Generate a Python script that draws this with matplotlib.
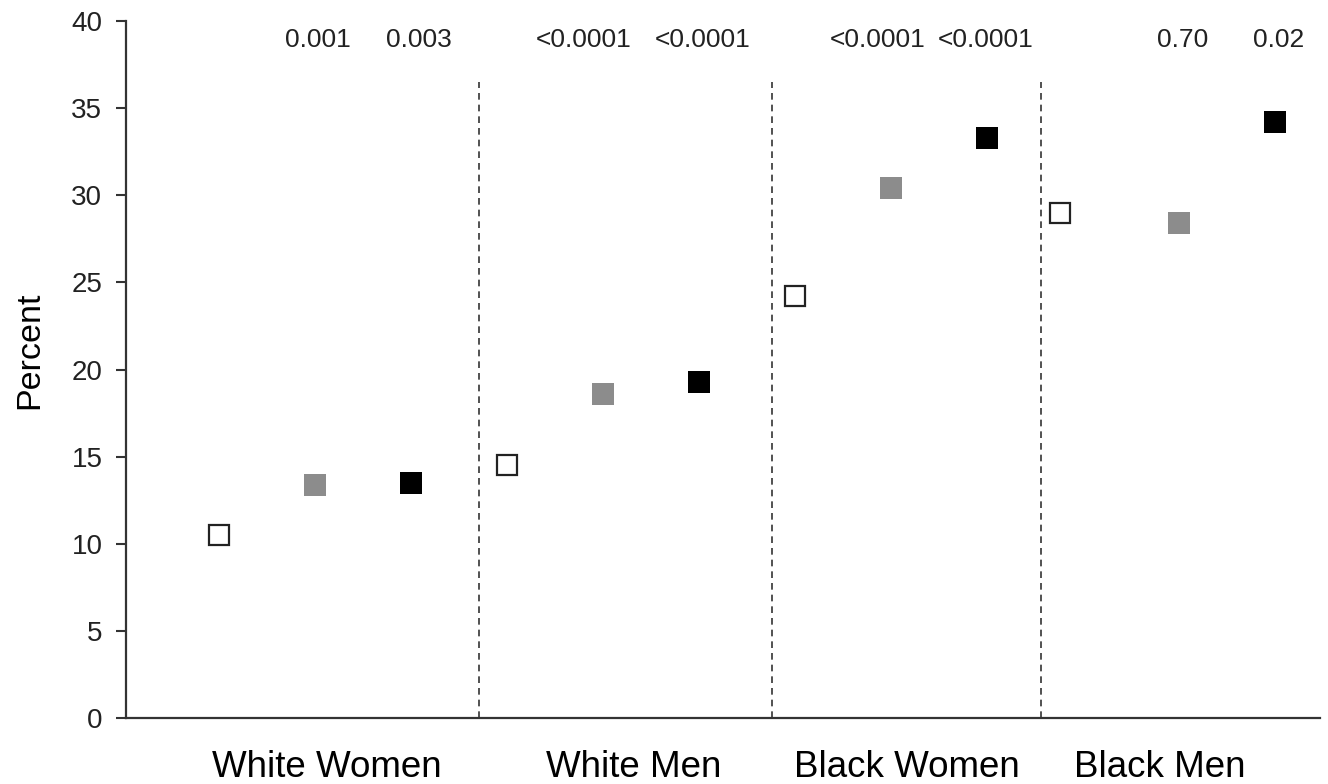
import matplotlib.pyplot as plt
import numpy as np

plt.rcParams["font.family"] = ["Liberation Sans", "DejaVu Sans"]

# data
groups = ["White Women", "White Men", "Black Women", "Black Men"]
open_vals = [10.5, 14.5, 24.2, 29.0]
gray_vals = [13.4, 18.6, 30.4, 28.4]
black_vals = [13.5, 19.3, 33.3, 34.2]
p_gray = ["0.001", "<0.0001", "<0.0001", "0.70"]
p_black = ["0.003", "<0.0001", "<0.0001", "0.02"]
yticks = [0, 5, 10, 15, 20, 25, 30, 35, 40]

# layout (x positions in slot units)
x_open = np.array([0.0, 3.0, 6.0, 8.76])
x_gray = np.array([1.0, 4.0, 7.0, 10.0])
x_black = np.array([2.0, 5.0, 8.0, 11.0])
x_pgray = [1.03, 3.80, 6.86, 10.04]
x_pblack = [2.08, 5.04, 7.99, 11.04]
x_label = [1.125, 4.32, 7.17, 9.80]
dividers = [2.71, 5.76, 8.56]

fig = plt.figure(figsize=(13.28, 7.84), dpi=100)
ax = fig.add_axes([126 / 1328, 1 - 718 / 784, (1320 - 126) / 1328, (718 - 21) / 784])

ax.plot(x_open, open_vals, "s", ms=15, mfc="white", mec="#222222", mew=1.6, ls="none")
ax.plot(x_gray, gray_vals, "s", ms=15.5, mfc="#8c8c8c", mec="#8c8c8c", mew=0, ls="none")
ax.plot(x_black, black_vals, "s", ms=15.5, mfc="black", mec="black", mew=0, ls="none")

# dashed separators stop below the p-value row
ax.vlines(dividers, 0, 36.5, color="#333333", lw=1.2, linestyles=[(0, (4, 3))])

for x, t in zip(x_pgray, p_gray):
    ax.text(x, 38.9, t, ha="center", va="center", fontsize=19, color="#222222")
for x, t in zip(x_pblack, p_black):
    ax.text(x, 38.9, t, ha="center", va="center", fontsize=19, color="#222222")

for x, g in zip(x_label, groups):
    ax.text(x, -0.0847, g, transform=ax.get_xaxis_transform(), ha="center", va="baseline",
            fontsize=26.5, color="black")

ax.set_xlim(-0.969, 11.47)
ax.set_ylim(0, 40)
ax.set_yticks(yticks)
ax.set_xticks([])
ax.tick_params(axis="y", direction="out", length=7, width=1.5, color="#333333",
               labelsize=20, labelcolor="#222222", pad=10)
ax.set_ylabel("Percent", fontsize=24.5)
ax.yaxis.set_label_coords(-0.068, 0.527)

for s in ["top", "right"]:
    ax.spines[s].set_visible(False)
for s in ["left", "bottom"]:
    ax.spines[s].set_color("#333333")
    ax.spines[s].set_linewidth(1.6)

fig.savefig("out.png", dpi=100)
